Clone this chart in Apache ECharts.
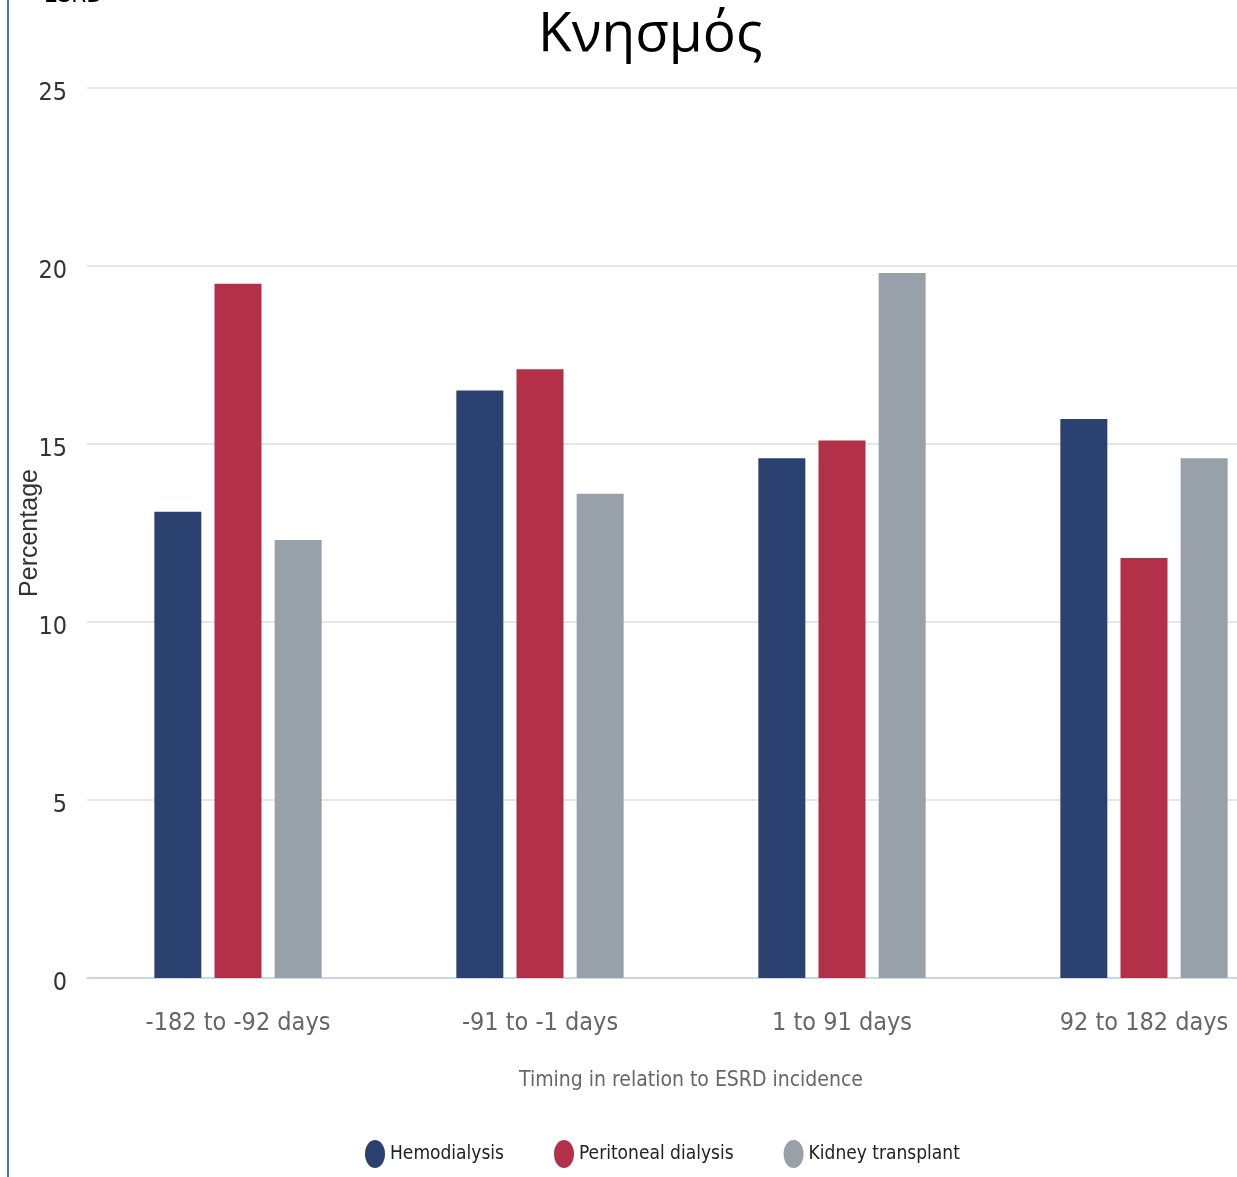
<!DOCTYPE html>
<html>
<head>
<meta charset="utf-8">
<script src="https://cdn.jsdelivr.net/npm/echarts@6/dist/echarts.min.js"></script>
<style>
  html, body { margin: 0; padding: 0; background: #fff; }
  #chart { width: 1237px; height: 1177px; }
</style>
</head>
<body>
<div id="chart"></div>
<script>
  var categories = ['-182 to -92 days', '-91 to -1 days', '1 to 91 days', '92 to 182 days'];
  var hemodialysis = [13.1, 16.5, 14.6, 15.7];
  var peritoneal = [19.5, 17.1, 15.1, 11.8];
  var transplant = [12.3, 13.6, 19.8, 14.6];
  var yTicks = [0, 5, 10, 15, 20, 25];

  var narrow = "'Liberation Sans Narrow', 'DejaVu Sans Condensed', 'Liberation Sans', sans-serif";
  var ellipse = 'path://M10,0 A10,14 0 1,1 10,28 A10,14 0 1,1 10,0 Z';

  var chart = echarts.init(document.getElementById('chart'));
  chart.setOption({
    animation: false,
    title: {
      text: 'Κνησμός',
      left: 533,
      top: 3,
      textStyle: { fontFamily: "'Open Sans', 'Noto Sans', sans-serif", fontSize: 55, fontWeight: 'normal', color: '#000' }
    },
    graphic: [
      { type: 'line', shape: { x1: 8, y1: 0, x2: 8, y2: 1177 }, style: { stroke: '#4472C4', lineWidth: 2 } },
      { type: 'text', x: 44, y: -16, style: { text: 'ESRD', font: '24px ' + narrow, fill: '#000' } }
    ],
    legend: {
      bottom: 4,
      left: 360,
      itemGap: 50,
      itemWidth: 20,
      itemHeight: 28,
      icon: ellipse,
      textStyle: { fontFamily: narrow, fontSize: 19, color: '#222' },
      data: ['Hemodialysis', 'Peritoneal dialysis', 'Kidney transplant']
    },
    grid: { left: 87, top: 88, width: 1208, bottom: 199, outerBoundsMode: 'none', containLabel: false },
    xAxis: {
      type: 'category',
      data: categories,
      name: 'Timing in relation to ESRD incidence',
      nameLocation: 'middle',
      nameGap: 92,
      nameTextStyle: { fontFamily: narrow, fontSize: 21, color: '#666' },
      axisLine: { lineStyle: { color: '#ccd6eb', width: 2 } },
      axisTick: { show: false },
      axisLabel: { fontFamily: narrow, fontSize: 25, color: '#666', margin: 33 }
    },
    yAxis: {
      type: 'value',
      min: 0,
      max: 25,
      interval: 5,
      name: 'Percentage',
      nameLocation: 'middle',
      nameGap: 44,
      nameMoveOverlap: false,
      nameTextStyle: { fontFamily: "'Liberation Sans', Arial, sans-serif", fontSize: 25, color: '#333' },
      axisLabel: {
        margin: 20,
        formatter: function (v) { return yTicks.indexOf(v) >= 0 ? '{t|' + v + '}' : ''; },
        rich: { t: { fontFamily: narrow, fontSize: 25, color: '#333', padding: [10, 0, 0, 0] } }
      },
      splitLine: { lineStyle: { color: '#e6e6e6', width: 2 } },
      axisLine: { show: false },
      axisTick: { show: false }
    },
    series: [
      { name: 'Hemodialysis', type: 'bar', data: hemodialysis, barWidth: 47, barGap: '28%', itemStyle: { color: '#2B4270' } },
      { name: 'Peritoneal dialysis', type: 'bar', data: peritoneal, barWidth: 47, barGap: '28%', itemStyle: { color: '#B23148' } },
      { name: 'Kidney transplant', type: 'bar', data: transplant, barWidth: 47, barGap: '28%', itemStyle: { color: '#98A0A9' } }
    ]
  });
</script>
</body>
</html>
